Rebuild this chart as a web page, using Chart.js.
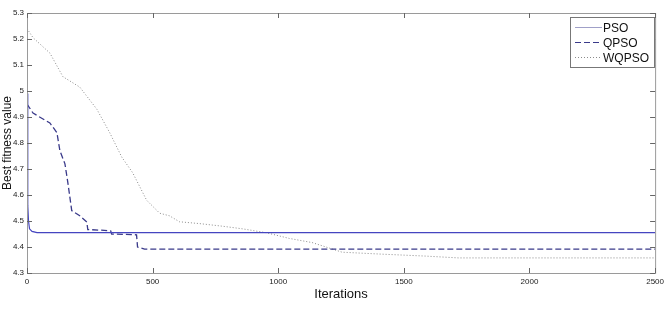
<!DOCTYPE html>
<html><head><meta charset="utf-8">
<script src="https://cdn.jsdelivr.net/npm/chart.js@4/dist/chart.umd.min.js"></script>
<style>html,body{margin:0;padding:0;background:#fff}#w{width:668px;height:314px}</style>
</head><body><div id="w"><canvas id="c" width="668" height="314"></canvas></div>
<script>
const seriesNames = ["PSO", "QPSO", "WQPSO"];
const psoX = [0, 3, 6, 10, 20, 40, 2500];
const psoY = [4.99, 4.56, 4.50, 4.47, 4.46, 4.455, 4.455];
const qpsoX = [0, 24, 91, 119, 131, 151, 163, 178, 210, 238, 242, 290, 333, 337, 436, 440, 468, 2500];
const qpsoY = [4.95, 4.915, 4.877, 4.84, 4.77, 4.72, 4.645, 4.54, 4.52, 4.496, 4.467, 4.465, 4.462, 4.45, 4.447, 4.40, 4.392, 4.392];
const wqpsoX = [0, 24, 91, 143, 210, 278, 329, 377, 421, 476, 528, 567, 607, 687, 778, 857, 952, 1044, 1135, 1190, 1254, 1401, 1587, 1718, 2500];
const wqpsoY = [5.24, 5.205, 5.146, 5.055, 5.015, 4.93, 4.84, 4.746, 4.685, 4.58, 4.53, 4.52, 4.497, 4.49, 4.48, 4.47, 4.455, 4.433, 4.417, 4.40, 4.38, 4.373, 4.365, 4.358, 4.358];
const xTicks = [0, 500, 1000, 1500, 2000, 2500];
const yTicks = [4.3, 4.4, 4.5, 4.6, 4.7, 4.8, 4.9, 5, 5.1, 5.2, 5.3];

const pts = (xs, ys) => xs.map((x, i) => ({x, y: ys[i]}));
const FONT = 'Arial, "Liberation Sans", sans-serif';

const frame = {
  id: 'frame',
  afterDatasetsDraw(chart) {
    const {ctx, chartArea: a, scales} = chart;
    ctx.save();
    ctx.strokeStyle = '#9a9a9a';
    ctx.lineWidth = 1;
    ctx.strokeRect(a.left + 0.5, a.top + 0.5, a.right - a.left, a.bottom - a.top);
    ctx.strokeStyle = '#666';
    ctx.beginPath();
    xTicks.forEach(v => {
      const px = Math.round(scales.x.getPixelForValue(v)) + 0.5;
      ctx.moveTo(px, a.bottom); ctx.lineTo(px, a.bottom - 5);
      ctx.moveTo(px, a.top); ctx.lineTo(px, a.top + 5);
    });
    yTicks.forEach(v => {
      const py = Math.round(scales.y.getPixelForValue(v)) + 0.5;
      ctx.moveTo(a.left, py); ctx.lineTo(a.left + 5, py);
      ctx.moveTo(a.right, py); ctx.lineTo(a.right - 5, py);
    });
    ctx.stroke();
    // legend
    const lx = 570, ly = 17, lw = 84, lh = 50;
    ctx.fillStyle = '#fff';
    ctx.fillRect(lx, ly, lw, lh);
    ctx.strokeStyle = '#777';
    ctx.strokeRect(lx + 0.5, ly + 0.5, lw, lh);
    ctx.font = '12px ' + FONT;
    ctx.textBaseline = 'middle';
    chart.data.datasets.forEach((ds, i) => {
      const y = ly + 10 + i * 15 + 0.5;
      ctx.strokeStyle = i === 0 ? '#a0a0c8' : ds.borderColor;
      ctx.lineWidth = 1;
      ctx.setLineDash(ds.borderDash || []);
      ctx.beginPath(); ctx.moveTo(lx + 5, y); ctx.lineTo(lx + 32, y); ctx.stroke();
      ctx.setLineDash([]);
      ctx.fillStyle = '#111';
      ctx.fillText(ds.label, lx + 33, y + 1);
    });
    ctx.restore();
  }
};

new Chart(document.getElementById('c'), {
  type: 'line',
  data: {
    datasets: [
      {label: seriesNames[0], data: pts(psoX, psoY), borderColor: '#4545c0', borderWidth: 1.2, pointRadius: 0, tension: 0},
      {label: seriesNames[1], data: pts(qpsoX, qpsoY), borderColor: '#3a3a8a', borderWidth: 1.3, borderDash: [6, 3], pointRadius: 0, tension: 0},
      {label: seriesNames[2], data: pts(wqpsoX, wqpsoY), borderColor: '#8a8a8a', borderWidth: 1, borderDash: [1, 2], pointRadius: 0, tension: 0}
    ]
  },
  options: {
    responsive: false,
    animation: false,
    layout: {padding: {left: 0, right: 10, top: 13, bottom: 12}},
    plugins: {legend: {display: false}, tooltip: {enabled: false}},
    scales: {
      x: {
        type: 'linear', min: 0, max: 2500,
        afterBuildTicks: s => { s.ticks = xTicks.map(v => ({value: v})); },
        afterFit: s => { s.height = 29; },
        grid: {display: false, drawTicks: false},
        border: {display: false},
        ticks: {font: {size: 8, family: FONT}, color: '#222', padding: 4, maxRotation: 0, callback: v => String(v)},
        title: {display: true, text: 'Iterations', font: {size: 13, family: FONT}, color: '#111', padding: {top: 0, bottom: 0}}
      },
      y: {
        type: 'linear', min: 4.3, max: 5.3,
        afterBuildTicks: s => { s.ticks = yTicks.map(v => ({value: v})); },
        afterFit: s => { s.width = 27; },
        grid: {display: false, drawTicks: false},
        border: {display: false},
        ticks: {font: {size: 8, family: FONT}, color: '#222', padding: 3, callback: v => String(Math.round(v * 10) / 10)},
        title: {display: true, text: 'Best fitness value', font: {size: 12, family: FONT}, color: '#111', padding: {top: 0, bottom: 0}}
      }
    }
  },
  plugins: [frame]
});
</script>
</body></html>
